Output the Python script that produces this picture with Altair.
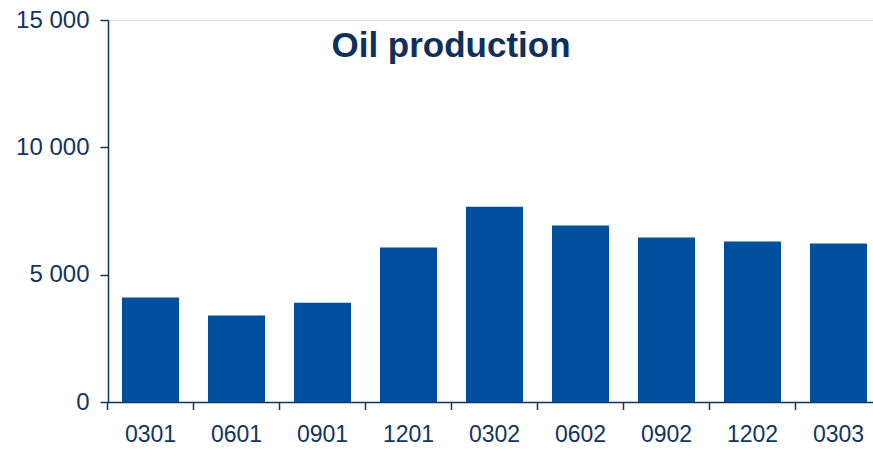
import altair as alt
import pandas as pd

categories = ["0301", "0601", "0901", "1201", "0302", "0602", "0902", "1202", "0303"]
values = [4100, 3400, 3900, 6070, 7670, 6930, 6460, 6300, 6220]
y_ticks = [0, 5000, 10000, 15000]
title_text = "Oil production"

NAVY = "#13335F"
BAR = "#004F9E"
FONT = "Liberation Sans"

df = pd.DataFrame({"cat": categories, "val": values})

xscale = alt.Scale(domain=categories, paddingInner=0.337, paddingOuter=0.1163, align=0.7)

bars = alt.Chart(df).mark_bar(color=BAR).encode(
    x=alt.X("cat:N", scale=xscale, sort=categories,
            axis=alt.Axis(title=None, ticks=False, labelAngle=0, labelPadding=21,
                          labelFontSize=23, labelColor=NAVY, labelFont=FONT,
                          domainColor=NAVY, domainWidth=1.5)),
    y=alt.Y("val:Q", scale=alt.Scale(domain=[0, 15000], nice=False),
            axis=alt.Axis(title=None, values=y_ticks, grid=False, tickSize=8,
                          tickColor=NAVY, tickWidth=1.5, labelPadding=11,
                          labelFontSize=24, labelColor=NAVY, labelFont=FONT,
                          domainColor=NAVY, domainWidth=1.5,
                          labelExpr="datum.value >= 1000 ? floor(datum.value/1000) + ' 000' : datum.value + ''")),
)

ticks = alt.Chart(df).mark_rule(color=NAVY, strokeWidth=1.5, xOffset=-14.5).encode(
    x=alt.X("cat:N", scale=xscale, sort=categories, bandPosition=0),
    y=alt.value(382),
    y2=alt.value(390),
)

title = alt.Chart(pd.DataFrame({"t": [title_text]})).mark_text(
    font=FONT, fontSize=35, fontWeight="bold", color="#0F2F5C",
    align="center", baseline="alphabetic"
).encode(
    x=alt.value(343), y=alt.value(37), text="t:N"
)

chart = alt.layer(bars, ticks, title).properties(
    width=765, height=382,
    autosize=alt.AutoSizeParams(type="none"),
    padding={"left": 108, "top": 20, "right": 0, "bottom": 47},
).configure_view(stroke=None).configure(background="white")

chart.save("out.html", embed_options={"renderer": "svg", "actions": False})
